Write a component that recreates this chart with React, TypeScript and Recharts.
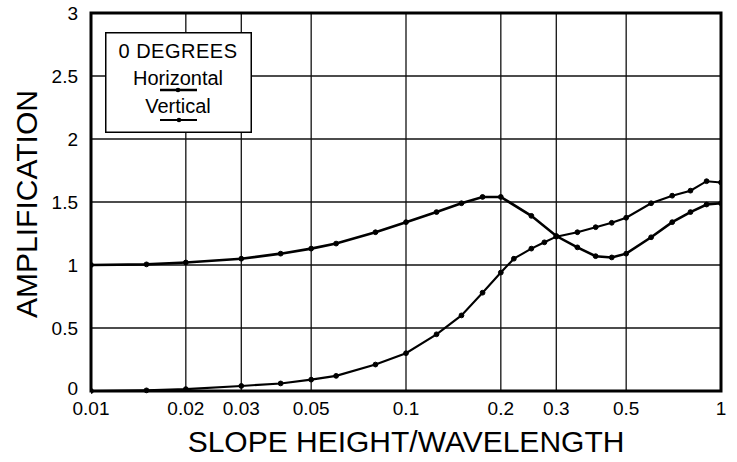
import React from 'react';
import { LineChart, Line, XAxis, YAxis, CartesianGrid, ReferenceArea, Legend, Label } from 'recharts';

const xTicks = [0.01, 0.02, 0.03, 0.05, 0.1, 0.2, 0.3, 0.5, 1];
const xTickLabels = ['0.01', '0.02', '0.03', '0.05', '0.1', '0.2', '0.3', '0.5', '1'];
const yTicks = [0, 0.5, 1, 1.5, 2, 2.5, 3];
const yTickLabels = ['0', '0.5', '1', '1.5', '2', '2.5', '3'];

const horizontalX = [0.01, 0.015, 0.02, 0.03, 0.04, 0.05, 0.06, 0.08, 0.1, 0.125, 0.15, 0.175, 0.2, 0.25, 0.3, 0.35, 0.4, 0.45, 0.5, 0.6, 0.7, 0.8, 0.9, 1];
const horizontalY = [1.0, 1.005, 1.02, 1.05, 1.09, 1.13, 1.17, 1.26, 1.34, 1.42, 1.49, 1.54, 1.54, 1.39, 1.23, 1.14, 1.07, 1.06, 1.09, 1.22, 1.34, 1.42, 1.48, 1.49];

const verticalX = [0.01, 0.015, 0.02, 0.03, 0.04, 0.05, 0.06, 0.08, 0.1, 0.125, 0.15, 0.175, 0.2, 0.22, 0.25, 0.275, 0.3, 0.35, 0.4, 0.45, 0.5, 0.6, 0.7, 0.8, 0.9, 1];
const verticalY = [0, 0.005, 0.015, 0.04, 0.06, 0.09, 0.12, 0.21, 0.3, 0.45, 0.6, 0.78, 0.94, 1.05, 1.13, 1.18, 1.225, 1.26, 1.3, 1.335, 1.375, 1.49, 1.55, 1.59, 1.665, 1.655];

const legendTitle = '0 DEGREES';
const seriesNames = ['Horizontal', 'Vertical'];
const xTitle = 'SLOPE HEIGHT/WAVELENGTH';
const yTitle = 'AMPLIFICATION';

const horizontalData = horizontalX.map((x, i) => ({ x, y: horizontalY[i] }));
const verticalData = verticalX.map((x, i) => ({ x, y: verticalY[i] }));

const FONT = '"Liberation Sans", Arial, Helvetica, sans-serif';

const XTick = (props: any) => {
  const { x, y, payload } = props;
  const idx = xTicks.indexOf(payload.value);
  return (
    <text x={x} y={y + 1} dy="0.71em" textAnchor="middle" fontSize={19} fontFamily={FONT} fill="#000">
      {idx >= 0 ? xTickLabels[idx] : payload.value}
    </text>
  );
};

const YTick = (props: any) => {
  const { x, y, payload } = props;
  const idx = yTicks.indexOf(payload.value);
  const shift = payload.value === 0 ? -3 : 0;
  return (
    <text x={x} y={y + shift} dy="0.36em" textAnchor="end" fontSize={19} fontFamily={FONT} fill="#000">
      {idx >= 0 ? yTickLabels[idx] : payload.value}
    </text>
  );
};

const renderLegend = () => (
  <svg width={147} height={101} style={{ display: 'block' }}>
    <rect x={0.75} y={0.75} width={145.5} height={99.5} fill="#fff" stroke="#000" strokeWidth={1.5} />
    <text x={73} y={26} textAnchor="middle" fontSize={20} letterSpacing={0.5} fontFamily={FONT} fill="#000">{legendTitle}</text>
    <text x={73} y={53} textAnchor="middle" fontSize={20} fontFamily={FONT} fill="#000">{seriesNames[0]}</text>
    <line x1={55} x2={92} y1={58} y2={58} stroke="#000" strokeWidth={2.5} />
    <circle cx={73} cy={58} r={2.3} fill="#000" />
    <text x={73} y={81} textAnchor="middle" fontSize={20} fontFamily={FONT} fill="#000">{seriesNames[1]}</text>
    <line x1={55} x2={92} y1={88} y2={88} stroke="#000" strokeWidth={2} />
    <circle cx={74} cy={88} r={2.3} fill="#000" />
  </svg>
);

export default function App() {
  return (
    <div style={{ position: 'absolute', left: 0, top: 0, width: 737, height: 462, background: '#fff' }}>
      <LineChart width={737} height={462} margin={{ top: 13, right: 16, bottom: 0, left: 0 }}>
        <CartesianGrid stroke="#111" strokeWidth={1.3} />
        <XAxis
          dataKey="x"
          type="number"
          scale="log"
          domain={[0.01, 1]}
          ticks={xTicks}
          interval={0}
          allowDataOverflow
          height={71}
          tickSize={0}
          tickMargin={10}
          tickLine={false}
          axisLine={false}
          tick={<XTick />}
        >
          <Label
            content={() => (
              <text x={406} y={452} textAnchor="middle" fontSize={30} fontFamily={FONT} fill="#000">{xTitle}</text>
            )}
          />
        </XAxis>
        <YAxis
          type="number"
          domain={[0, 3]}
          ticks={yTicks}
          interval={0}
          width={91}
          tickSize={0}
          tickMargin={13}
          tickLine={false}
          axisLine={false}
          tick={<YTick />}
        >
          <Label
            content={() => (
              <text
                x={26}
                y={204}
                transform="rotate(-90 26 204)"
                textAnchor="middle"
                dy="0.36em"
                fontSize={30}
                fontFamily={FONT}
                fill="#000"
              >
                {yTitle}
              </text>
            )}
          />
        </YAxis>
        <ReferenceArea x1={0.01} x2={1} y1={0} y2={3} fill="none" stroke="#000" strokeWidth={3} ifOverflow="visible" />
        <Legend
          layout="horizontal"
          verticalAlign="middle"
          align="center"
          content={renderLegend}
          wrapperStyle={{ position: 'absolute', left: 105, top: 32, width: 147, height: 101 }}
        />
        <Line
          data={horizontalData}
          dataKey="y"
          name={seriesNames[0]}
          type="linear"
          stroke="#000"
          strokeWidth={2.6}
          dot={{ r: 2.4, fill: '#000', stroke: '#000', strokeWidth: 1 }}
          activeDot={false}
          isAnimationActive={false}
        />
        <Line
          data={verticalData}
          dataKey="y"
          name={seriesNames[1]}
          type="linear"
          stroke="#000"
          strokeWidth={2.1}
          dot={{ r: 2.4, fill: '#000', stroke: '#000', strokeWidth: 1 }}
          activeDot={false}
          isAnimationActive={false}
        />
      </LineChart>
    </div>
  );
}
